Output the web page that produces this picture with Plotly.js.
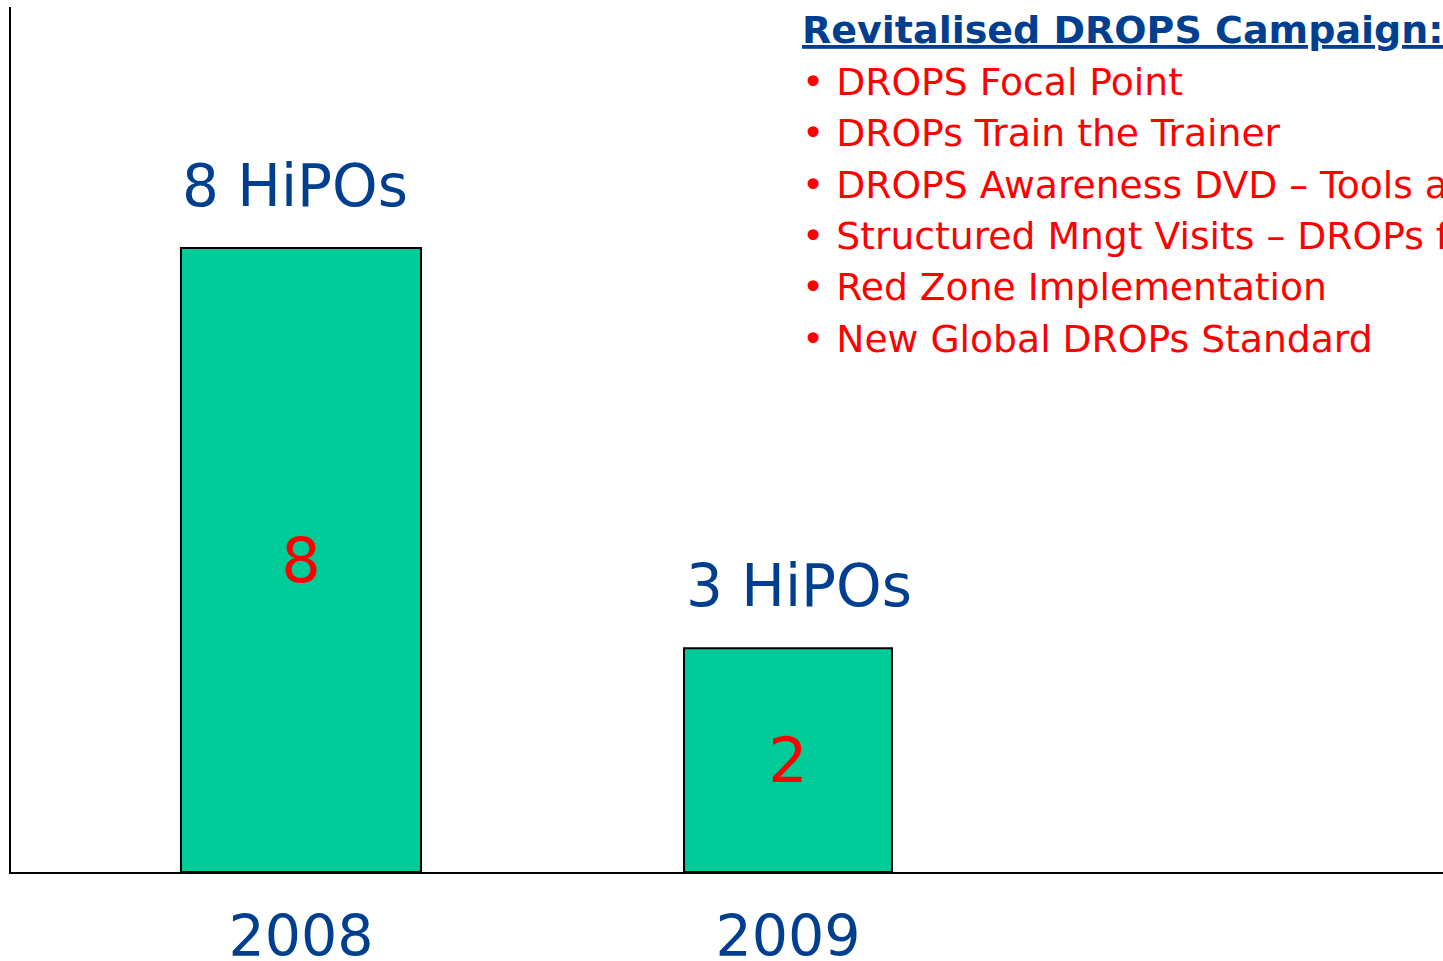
<!DOCTYPE html>
<html>
<head>
<meta charset="utf-8">
<script src="https://cdn.plot.ly/plotly-3.0.1.min.js"></script>
<style>html,body{margin:0;padding:0;background:#fff;overflow:hidden}</style>
</head>
<body>
<div id="chart" style="width:1443px;height:961px"></div>
<script>
const years = ['2008', '2009'];
const barValues = [8, 2.87];
const insideLabels = ['8', '2'];
const aboveLabels = ['8 HiPOs', '3 HiPOs'];
const listTitle = 'Revitalised DROPS Campaign:';
const listItems = [
  'DROPS Focal Point',
  'DROPs Train the Trainer',
  'DROPS Awareness DVD – Tools and Techniques',
  'Structured Mngt Visits – DROPs focus',
  'Red Zone Implementation',
  'New Global DROPs Standard'
];

const BLUE = '#003f8f';
const RED = '#ff0000';
const FONT = 'DejaVu Sans, Verdana, sans-serif';

const plotTop = 7, plotBottom = 872, plotH = plotBottom - plotTop;
const py = p => (plotBottom - p) / plotH;
const px = p => (p - 11) / 1432;

const annotations = [];
aboveLabels.forEach((t, i) => {
  annotations.push({
    x: i, y: barValues[i], xref: 'x', yref: 'y',
    text: t, showarrow: false, xanchor: 'center', yanchor: 'bottom',
    xshift: i === 0 ? -6 : 11, yshift: 26,
    font: {family: FONT, size: 58, color: BLUE}
  });
});
annotations.push({
  x: px(800), y: py(30), xref: 'paper', yref: 'paper',
  text: '<b><span style="text-decoration:underline">' + listTitle + '</span></b>',
  showarrow: false, xanchor: 'left', yanchor: 'middle',
  font: {family: FONT, size: 38, color: BLUE}
});
listItems.forEach((t, i) => {
  annotations.push({
    x: px(800), y: py(82 + 51.3 * i), xref: 'paper', yref: 'paper',
    text: '• ' + t, showarrow: false, xanchor: 'left', yanchor: 'middle',
    font: {family: FONT, size: 37.7, color: RED}
  });
});

const trace = {
  type: 'bar',
  x: years,
  y: barValues,
  width: [0.493, 0.427],
  text: insideLabels,
  textposition: 'inside',
  insidetextanchor: 'middle',
  textangle: 0,
  textfont: {family: FONT, size: 62, color: RED},
  marker: {color: '#00cc99', line: {color: '#000', width: 2}},
  hoverinfo: 'skip'
};

const layout = {
  width: 1443, height: 961,
  margin: {l: 11, r: 0, t: plotTop, b: 961 - plotBottom, pad: 0},
  paper_bgcolor: '#fff', plot_bgcolor: '#fff',
  showlegend: false,
  xaxis: {
    type: 'category', range: [-0.5955, 2.345],
    showline: true, linecolor: '#000', linewidth: 2,
    showgrid: false, zeroline: false, ticks: '',
    ticklabelstandoff: 14,
    tickfont: {family: FONT, size: 57, color: BLUE}
  },
  yaxis: {
    range: [0, 8 * plotH / 624],
    showline: true, linecolor: '#000', linewidth: 2,
    showgrid: false, zeroline: false, ticks: '', showticklabels: false
  },
  annotations: annotations
};

Plotly.newPlot('chart', [trace], layout, {staticPlot: true, displayModeBar: false});
</script>
</body>
</html>
